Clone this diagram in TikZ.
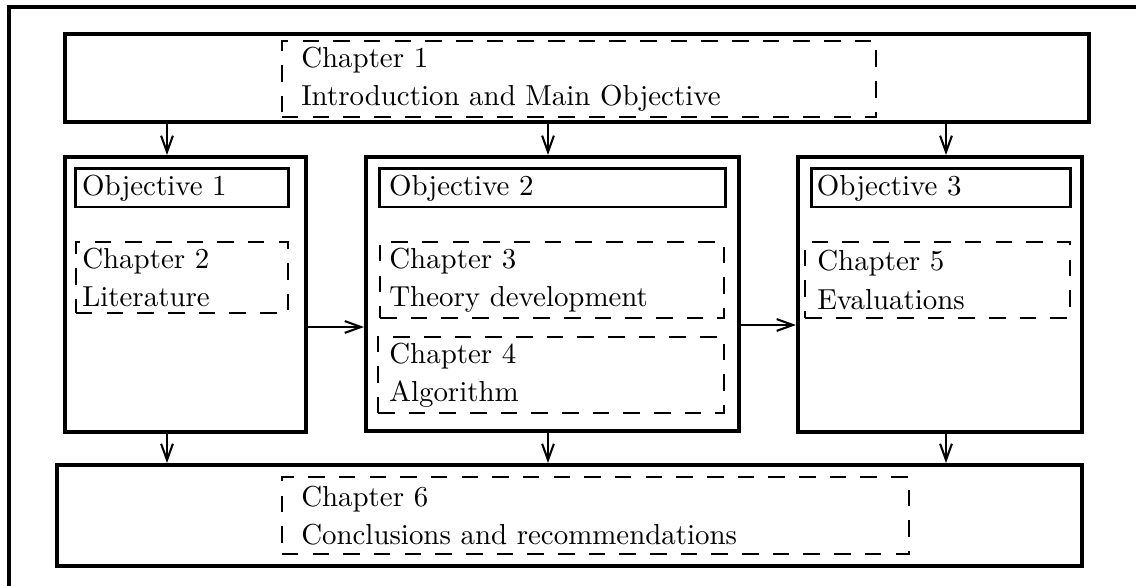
\documentclass[tikz,border=0pt]{standalone}
\usetikzlibrary{positioning,arrows.meta}

\tikzset{
  frame/.style={line width=1.4pt},
  outer/.style={draw, line width=1.4pt, inner sep=0pt},
  tag/.style={draw, line width=1pt, inner sep=0pt},
  chap/.style={draw, line width=0.9pt, dash pattern=on 5.6pt off 4.8pt, inner sep=0pt},
  txt/.style={inner sep=0pt, align=left, font=\fontsize{9.8}{13}\selectfont},
  arr/.style={-{Straight Barb[length=5.5pt,width=4pt]}, line width=0.7pt},
}

\begin{document}
\begin{tikzpicture}[x=0.339pt, y=-0.339pt]
        \useasboundingbox (0,0) rectangle (1136,586);
        \draw [frame] (9,586) |- (1136,7);
        % top: introduction
        \node [outer, minimum width=347.1pt, minimum height=29.8pt] (top) at (577,78) {};
        \node [chap, minimum width=201.4pt, minimum height=25.8pt] (ch1) at (579,79) {};
        \node [txt, right=6.8pt of ch1.west] (t1) {Chapter 1\\Introduction and Main Objective};
        % objective 1
        \node [outer, minimum width=81.7pt, minimum height=93.2pt] (obj1) at (185.5,294.5) {};
        \node [tag, minimum width=71.9pt, minimum height=12.9pt] (tag1) at (182,188) {};
        \node [txt, right=2.4pt of tag1.west] (o1) {Objective 1};
        \node [chap, minimum width=71.9pt, minimum height=24.1pt] (ch2) at (182,277.5) {};
        \node [txt, right=2.4pt of ch2.west] (t2) {Chapter 2\\Literature};
        % objective 2
        \node [outer, minimum width=126.4pt, minimum height=92.9pt] (obj2) at (552.5,294) {};
        \node [tag, minimum width=117pt, minimum height=12.9pt] (tag2) at (552.5,188) {};
        \node [txt, right=3.4pt of tag2.west] (o2) {Objective 2};
        \node [chap, minimum width=116.6pt, minimum height=25.8pt] (ch3) at (552,280) {};
        \node [txt, right=3.4pt of ch3.west] (t3) {Chapter 3\\Theory development};
        \node [chap, minimum width=117.3pt, minimum height=25.8pt] (ch4) at (551,375) {};
        \node [txt, right=4.1pt of ch4.west] (t4) {Chapter 4\\Algorithm};
        % objective 3
        \node [outer, minimum width=96.3pt, minimum height=93.2pt] (obj3) at (940,294.5) {};
        \node [tag, minimum width=87.5pt, minimum height=12.9pt] (tag3) at (941,188) {};
        \node [txt, right=2pt of tag3.west] (o3) {Objective 3};
        \node [chap, minimum width=89.8pt, minimum height=25.8pt] (ch5) at (937.5,280) {};
        \node [txt, right=4.4pt of ch5.west] (t5) {Chapter 5\\Evaluations};
        % bottom: conclusions
        \node [outer, minimum width=347.5pt, minimum height=34.2pt] (bot) at (569.5,515.5) {};
        \node [chap, minimum width=212.6pt, minimum height=26.1pt] (ch6) at (595.5,515.5) {};
        \node [txt, right=6.8pt of ch6.west] (t6) {Chapter 6\\Conclusions and recommendations};
        % connectors
        \coordinate (c1) at (167,0);
        \coordinate (c2) at (548,0);
        \coordinate (c3) at (946,0);
        \coordinate (r1) at (0,327);
        \coordinate (r2) at (0,325);
        \draw [arr] (top.south -| c1) -- (obj1.north -| c1);
        \draw [arr] (top.south -| c2) -- (obj2.north -| c2);
        \draw [arr] (top.south -| c3) -- (obj3.north -| c3);
        \draw [arr] (obj1.south -| c1) -- (bot.north -| c1);
        \draw [arr] (obj2.south -| c2) -- (bot.north -| c2);
        \draw [arr] (obj3.south -| c3) -- (bot.north -| c3);
        \draw [arr] (obj1.east |- r1) -- (obj2.west |- r1);
        \draw [arr] (obj2.east |- r2) -- (obj3.west |- r2);
    \end{tikzpicture}
\end{document}
